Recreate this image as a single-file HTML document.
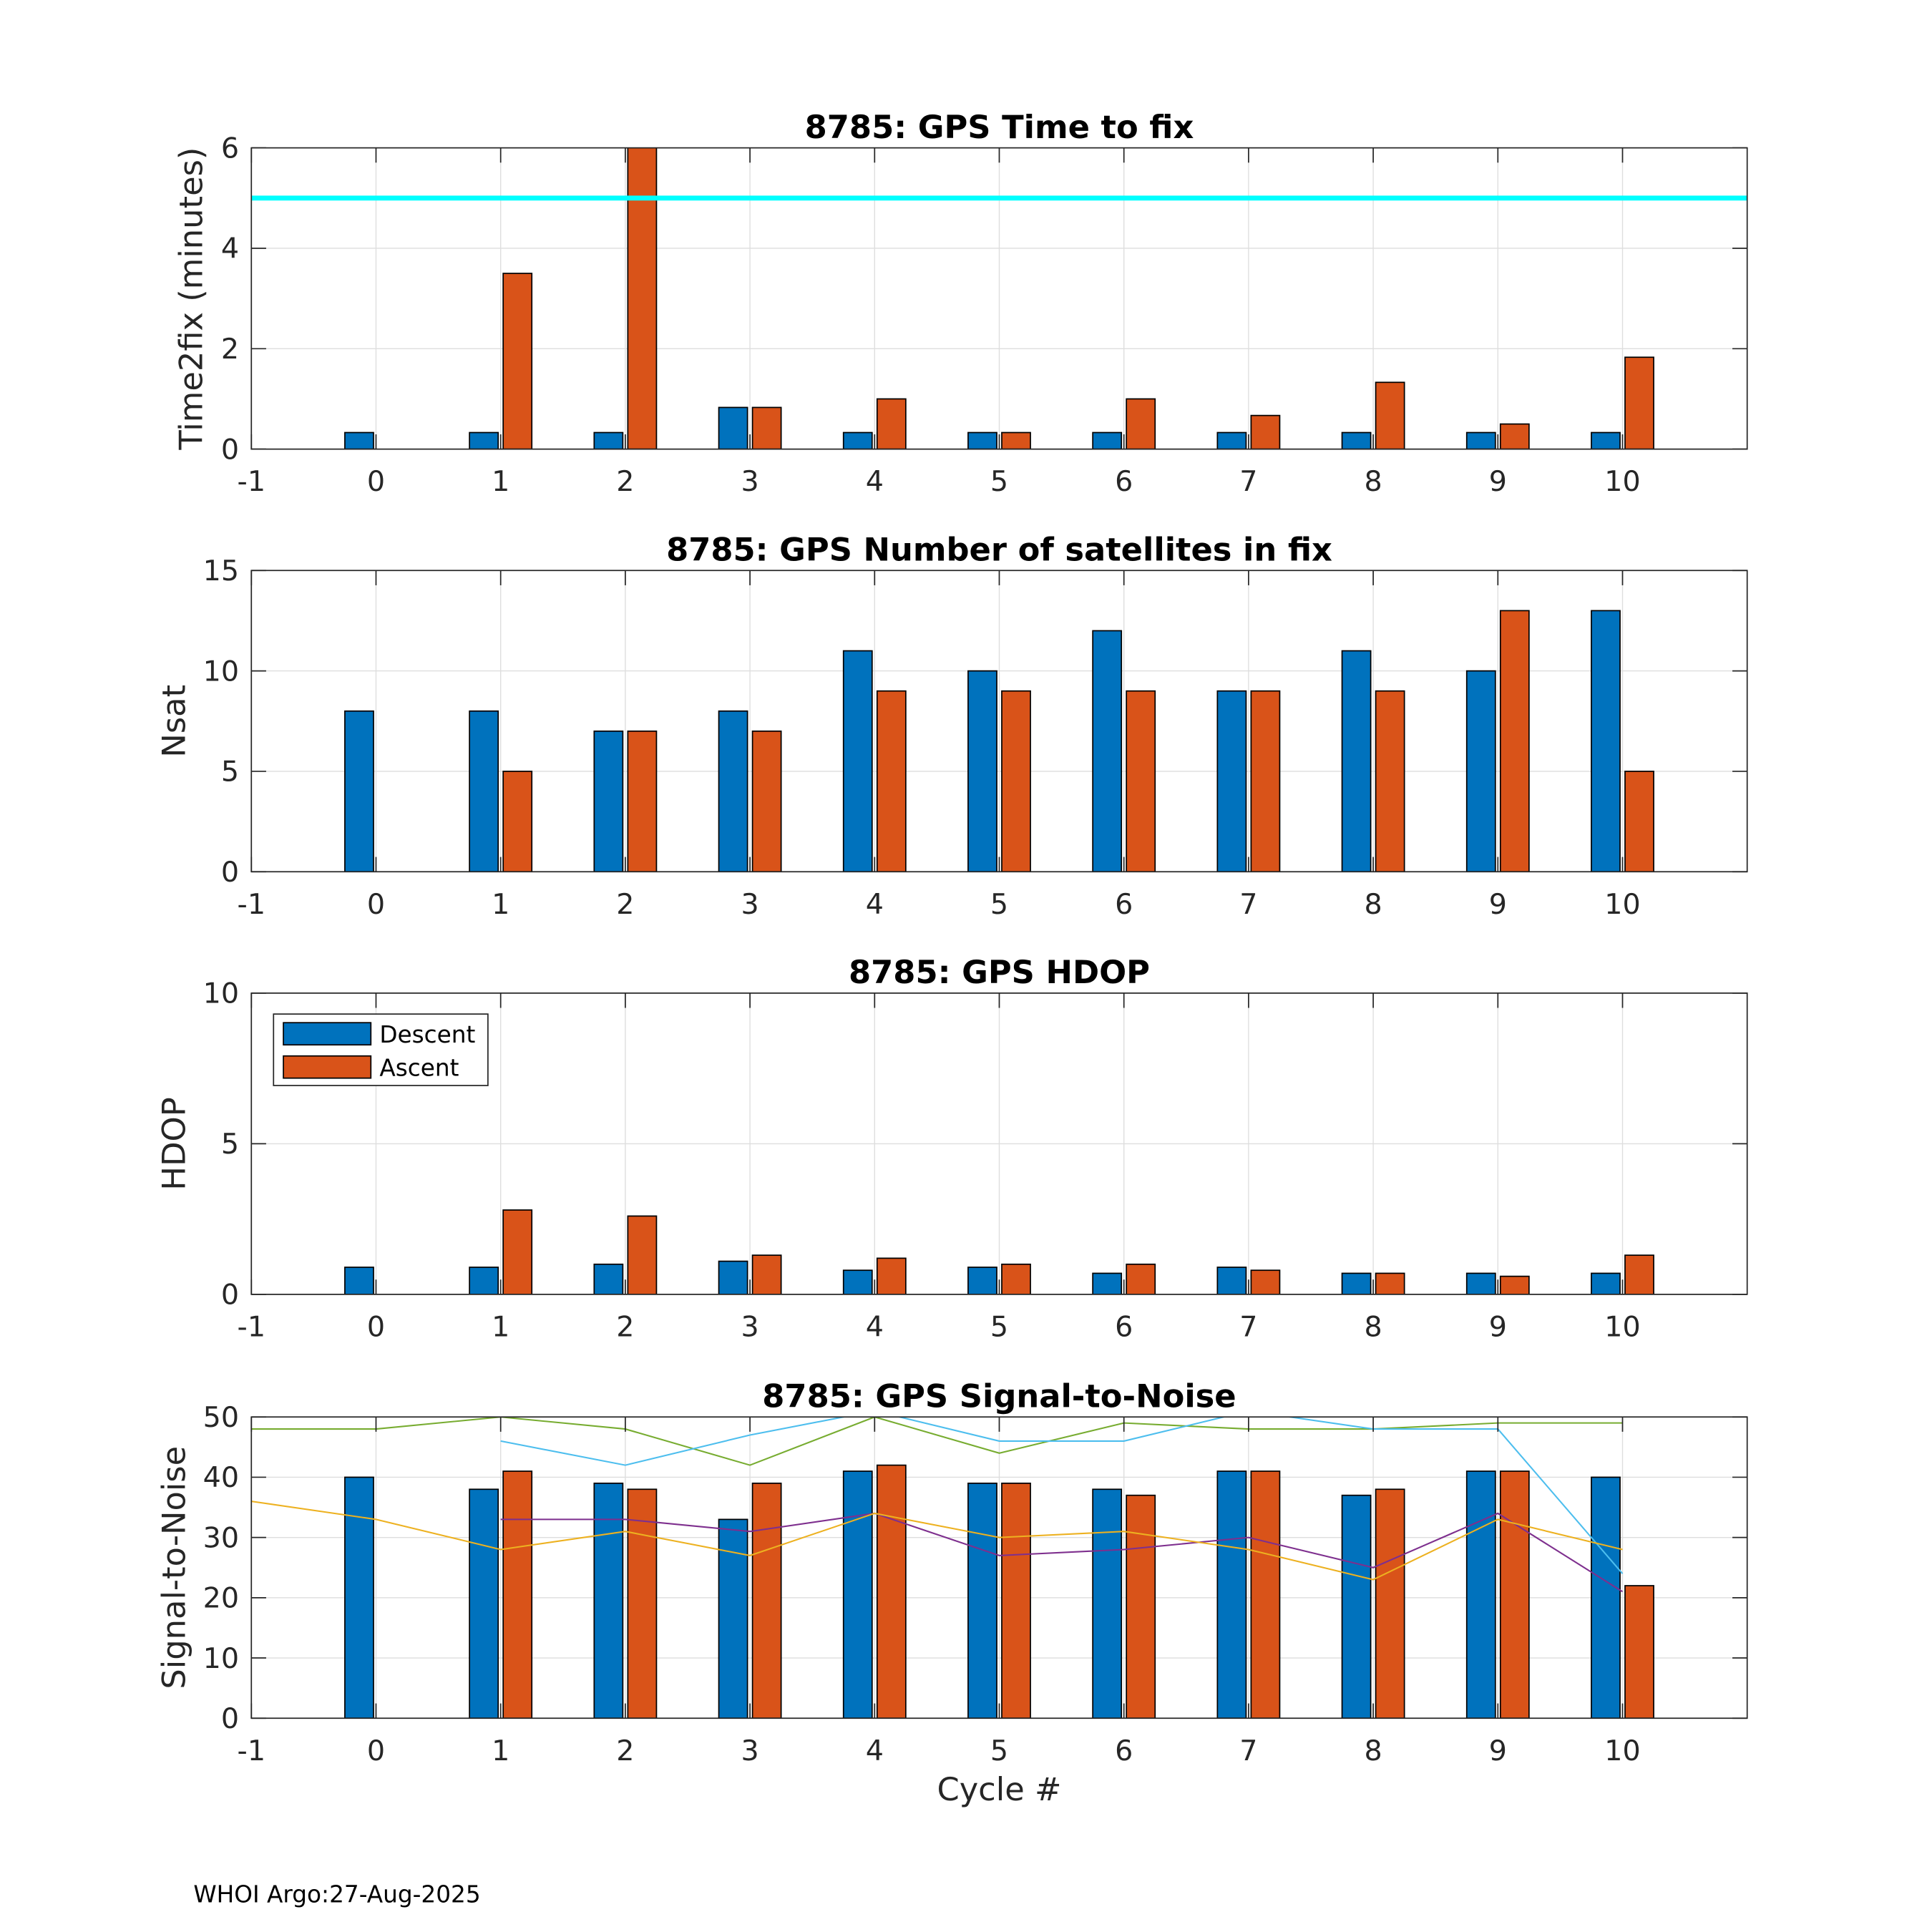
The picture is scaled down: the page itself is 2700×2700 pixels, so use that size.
<!DOCTYPE html>
<html><head><meta charset="utf-8"><style>
html,body{margin:0;padding:0;background:#fff;}
svg{display:block;font-family:"DejaVu Sans","Liberation Sans",sans-serif;}
</style></head><body>
<svg id="fig" width="2700" height="2700" viewBox="0 0 1568 1568" xmlns="http://www.w3.org/2000/svg">
<rect width="1568" height="1568" fill="#fff"/>
<text x="157" y="1544" font-size="19" fill="#000">WHOI Argo:27-Aug-2025</text>
<text x="811" y="1461" font-size="26" fill="#262626" text-anchor="middle">Cycle #</text>
</svg>
<script>
const cycles=[0,1,2,3,4,5,6,7,8,9,10];
const xTicks=[-1,0,1,2,3,4,5,6,7,8,9,10];
const t2fDesc=[0.33,0.33,0.33,0.83,0.33,0.33,0.33,0.33,0.33,0.33,0.33];
const t2fAsc=[0,3.5,6.5,0.83,1.0,0.33,1.0,0.67,1.33,0.5,1.83];
const t2fLimit=5;
const nsatDesc=[8,8,7,8,11,10,12,9,11,10,13];
const nsatAsc=[0,5,7,7,9,9,9,9,9,13,5];
const hdopDesc=[0.9,0.9,1.0,1.1,0.8,0.9,0.7,0.9,0.7,0.7,0.7];
const hdopAsc=[0,2.8,2.6,1.3,1.2,1.0,1.0,0.8,0.7,0.6,1.3];
const snrDesc=[40,38,39,33,41,39,38,41,37,41,40];
const snrAsc=[0,41,38,39,42,39,37,41,38,41,22];
const snrGreenX=[-1,0,1,2,3,4,5,6,7,8,9,10];
const snrGreen=[48,48,50,48,42,50,44,49,48,48,49,49];
const snrCyanX=[1,2,3,4,5,6,7,8,9,10];
const snrCyan=[46,42,47,51,46,46,51,48,48,24];
const snrPurpleX=[1,2,3,4,5,6,7,8,9,10];
const snrPurple=[33,33,31,34,27,28,30,25,34,21];
const snrYellowX=[-1,0,1,2,3,4,5,6,7,8,9,10];
const snrYellow=[36,33,28,31,27,34,30,31,28,23,33,28];

const NS='http://www.w3.org/2000/svg';
const svg=document.getElementById('fig');
const L=204,R=1418,H=244.5,XMIN=-1,XMAX=11;
function mk(tag,attrs,parent){const e=document.createElementNS(NS,tag);for(const k in attrs)e.setAttribute(k,attrs[k]);(parent||svg).appendChild(e);return e;}
function sx(v){return L+(v-XMIN)/(XMAX-XMIN)*(R-L);}

function panel(idx,top,ymax,yTicks,title,ylabel,desc,asc,ylx){
  const g=mk('g',{});
  
  
  const sy=v=>top+H-(v/ymax)*H;
  mk('rect',{x:L,y:top,width:R-L,height:H,fill:'#fff'},g);
  const clipId='clip'+idx;
  const cp=mk('clipPath',{id:clipId},g);mk('rect',{x:L,y:top,width:R-L,height:H},cp);
  xTicks.forEach(t=>{mk('line',{x1:sx(t),x2:sx(t),y1:top,y2:top+H,stroke:'#dedede','stroke-width':0.8},g);});
  yTicks.forEach(t=>{mk('line',{x1:L,x2:R,y1:sy(t),y2:sy(t),stroke:'#dedede','stroke-width':0.8},g);});
  const plot=mk('g',{'clip-path':'url(#'+clipId+')'},g);
  const bw=0.23,off=0.135;
  cycles.forEach((c,i)=>{
    if(desc[i]>0){const b=mk('rect',{x:sx(c-off-bw/2),y:sy(desc[i]),width:sx(bw)-sx(0),height:sy(0)-sy(desc[i]),fill:'#0072bd',stroke:'#000','stroke-width':1},plot);
      
      }
    if(asc[i]>0){const b=mk('rect',{x:sx(c+off-bw/2),y:sy(asc[i]),width:sx(bw)-sx(0),height:sy(0)-sy(asc[i]),fill:'#d95319',stroke:'#000','stroke-width':1},plot);
      
      }
  });
  mk('rect',{x:L,y:top,width:R-L,height:H,fill:'none',stroke:'#262626','stroke-width':1},g);
  xTicks.forEach(t=>{
    mk('line',{x1:sx(t),x2:sx(t),y1:top+H,y2:top+H-12,stroke:'#262626','stroke-width':1},g);
    mk('line',{x1:sx(t),x2:sx(t),y1:top,y2:top+12,stroke:'#262626','stroke-width':1},g);
    const tx=mk('text',{x:sx(t),y:top+H+34,'font-size':23,fill:'#262626','text-anchor':'middle'},g);tx.textContent=t;
    
    
  });
  yTicks.forEach(t=>{
    mk('line',{x1:L,x2:L+12,y1:sy(t),y2:sy(t),stroke:'#262626','stroke-width':1},g);
    mk('line',{x1:R,x2:R-12,y1:sy(t),y2:sy(t),stroke:'#262626','stroke-width':1},g);
    const tx=mk('text',{x:L-10,y:sy(t)+8,'font-size':23,fill:'#262626','text-anchor':'end'},g);tx.textContent=t;
    
    
  });
  const tt=mk('text',{x:811,y:top-8,'font-size':26,'font-weight':'bold',fill:'#000','text-anchor':'middle'},g);tt.textContent=title;
  
  
  const yl=mk('text',{x:0,y:0,'font-size':26,fill:'#262626','text-anchor':'middle',transform:'translate('+ylx+','+(top+H/2)+') rotate(-90)'},g);yl.textContent=ylabel;
  
  
  return {g,plot,sy};
}

const p1=panel(1,120,6,[0,2,4,6],'8785: GPS Time to fix','Time2fix (minutes)',t2fDesc,t2fAsc,164);
const lim=mk('line',{x1:L,x2:R,y1:p1.sy(t2fLimit),y2:p1.sy(t2fLimit),stroke:'#00ffff','stroke-width':4},p1.plot);


panel(2,463,15,[0,5,10,15],'8785: GPS Number of satellites in fix','Nsat',nsatDesc,nsatAsc,150);
const p3=panel(3,806,10,[0,5,10],'8785: GPS HDOP','HDOP',hdopDesc,hdopAsc,150);
const lg=mk('g',{},p3.g);


mk('rect',{x:222,y:823,width:174,height:58,fill:'#fff',stroke:'#262626','stroke-width':1},lg);
mk('rect',{x:230,y:830,width:71,height:18,fill:'#0072bd',stroke:'#000','stroke-width':1},lg);
mk('rect',{x:230,y:857,width:71,height:18,fill:'#d95319',stroke:'#000','stroke-width':1},lg);
const l1=mk('text',{x:308,y:846,'font-size':19,fill:'#000'},lg);l1.textContent='Descent';


const l2=mk('text',{x:308,y:873,'font-size':19,fill:'#000'},lg);l2.textContent='Ascent';



const p4=panel(4,1150,50,[0,10,20,30,40,50],'8785: GPS Signal-to-Noise','Signal-to-Noise',snrDesc,snrAsc,150);
function series(xs,ys,color,name){
  const pts=xs.map((x,i)=>sx(x)+','+p4.sy(ys[i])).join(' ');
  const pl=mk('polyline',{points:pts,fill:'none',stroke:color,'stroke-width':1.2},p4.plot);
  
  
}
series(snrGreenX,snrGreen,'#77ac30','snr-line-green');
series(snrCyanX,snrCyan,'#4dbeee','snr-line-cyan');
series(snrPurpleX,snrPurple,'#7e2f8e','snr-line-purple');
series(snrYellowX,snrYellow,'#edb120','snr-line-yellow');
</script>
</body></html>
